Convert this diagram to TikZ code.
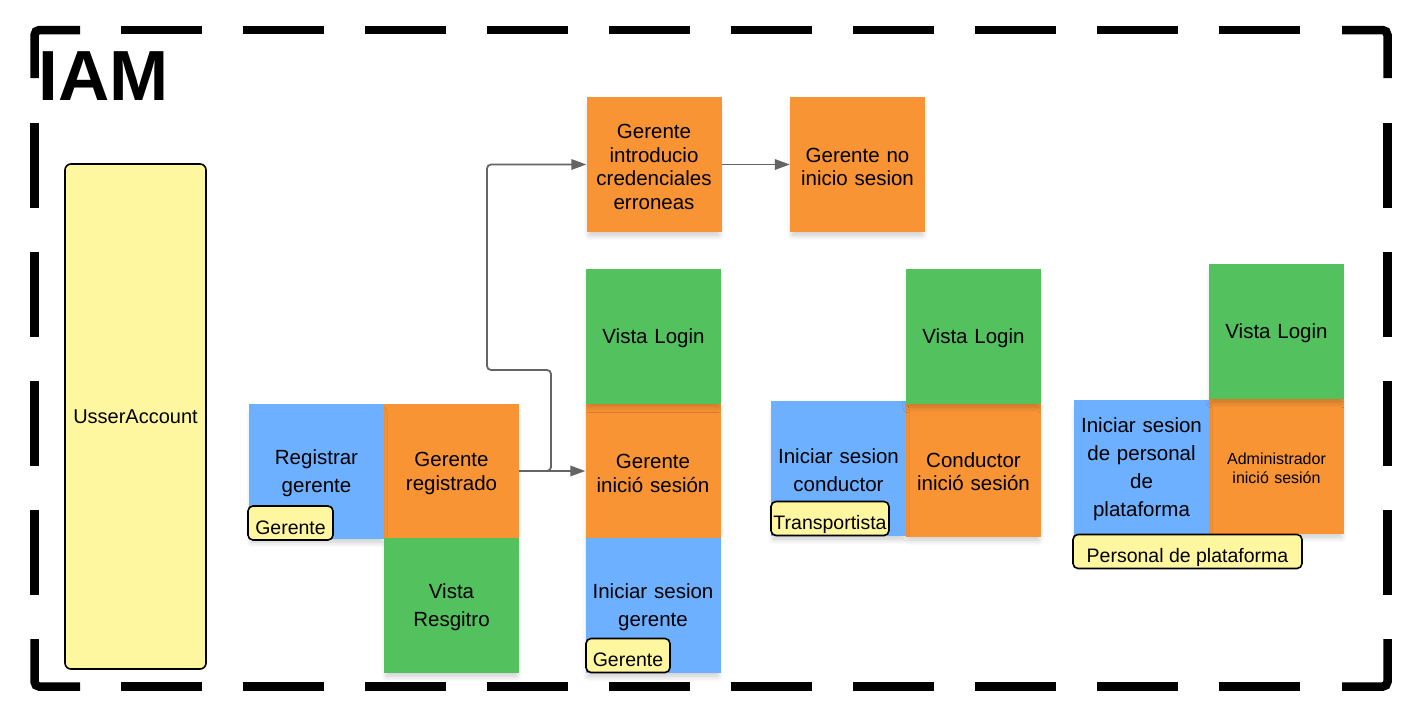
\documentclass[tikz,border=0pt]{standalone}
\usepackage{fontspec}
\setmainfont{Liberation Sans}
\usetikzlibrary{arrows.meta,shadows.blur}
\definecolor{nblue}{RGB}{108,176,255}
\definecolor{norange}{RGB}{248,148,52}
\definecolor{ngreen}{RGB}{83,193,94}
\definecolor{nyellow}{RGB}{255,246,160}
\definecolor{conncol}{RGB}{100,100,100}
\begin{document}
\begin{tikzpicture}[x=1pt,y=-1pt,
  note/.style={minimum width=135pt, minimum height=135pt, inner sep=0pt,
    align=center, text width=131pt, text height=19pt,
    blur shadow={shadow xshift=0pt, shadow yshift=-6pt, shadow scale=0.96,
      shadow blur radius=6pt, shadow blur steps=10, shadow opacity=22}},
  tight/.style={font=\fontsize{20.5}{23.5}\selectfont},
  loose/.style={font=\fontsize{20.5}{28}\selectfont},
  bluenote/.style={note, fill=nblue, loose},
  orangenote/.style={note, fill=norange, tight},
  greennote/.style={note, fill=ngreen, loose},
  tagbox/.style={draw=black, line width=1.6pt, fill=nyellow, rounded corners=5pt,
    minimum height=34pt, inner xsep=2pt, inner ysep=6pt, text height=22pt, text depth=0pt,
    font=\fontsize{19.5}{23.5}\selectfont},
  frame/.style={line width=8.5pt, line cap=butt, draw=black},
  conn/.style={draw=conncol, line width=1.8pt, rounded corners=4pt,
    -{Triangle[length=15pt,width=10.5pt]}}
]
\useasboundingbox (0,0) rectangle (1414,710);

% dashed frame
\draw[frame, rounded corners=5pt] (34.5,78) -- (34.5,30) -- (80,30);
\draw[frame, rounded corners=5pt] (1342,30) -- (1387.5,30) -- (1387.5,78);
\draw[frame, rounded corners=5pt] (34.5,639) -- (34.5,686.7) -- (80,686.7);
\draw[frame, rounded corners=5pt] (1342,686.7) -- (1387.5,686.7) -- (1387.5,639);
\draw[frame, dash pattern=on 81pt off 41pt] (121,30) -- (1301,30);
\draw[frame, dash pattern=on 81pt off 41pt] (121,686.7) -- (1301,686.7);
\draw[frame, dash pattern=on 85pt off 44pt] (34.5,123) -- (34.5,595);
\draw[frame, dash pattern=on 85pt off 44pt] (1387.5,123) -- (1387.5,595);

\node[anchor=base west, inner sep=0pt, font=\fontsize{71}{71}\selectfont\bfseries] (iam) at (38.5,100) {IAM};

% aggregate
\node[draw=black, line width=1.6pt, fill=nyellow, rounded corners=6pt,
  minimum width=141pt, minimum height=505pt, font=\fontsize{20}{23.5}\selectfont]
  (usser) at (135.5,416.5) {UsserAccount};

% orange notes
\node[orangenote] (gr) at (451.5,471) {Gerente\\registrado};
\node[orangenote] (gice) at (654,164.5) {Gerente\\introducio\\credenciales\\erroneas};
\node[orangenote] (gnis) at (857.5,164.5) {Gerente no\\inicio sesion};
\node[orangenote] (gis) at (653,471) {Gerente\\inició sesión};
\node[orangenote] (cis) at (973.5,469.5) {Conductor\\inició sesión};
\node[orangenote, font=\fontsize{16}{18.5}\selectfont, text height=15pt] (ais) at (1276.5,466.5) {Administrador\\inició sesión};

% blue notes
\node[bluenote] (reg) at (316.5,471.5) {Registrar\\gerente};
\node[bluenote] (isg) at (653,605.5) {Iniciar sesion\\gerente};
\node[bluenote] (isc) at (838.5,468.5) {Iniciar sesion\\conductor};
\node[bluenote] (ispp) at (1141.5,467) {Iniciar sesion\\de personal\\de\\plataforma};

% green notes
\node[greennote] (vr) at (451.5,605.5) {Vista\\Resgitro};
\node[greennote] (vl1) at (653.5,336) {Vista Login};
\node[greennote] (vl2) at (973.5,336.5) {Vista Login};
\node[greennote] (vl3) at (1276.5,331.5) {Vista Login};

% tags
\node[tagbox, minimum width=85pt] (t1) at (290.5,523) {Gerente};
\node[tagbox, minimum width=84pt] (t2) at (628,655.5) {Gerente};
\node[tagbox, minimum width=118pt] (t3) at (830,518.5) {Transportista};
\node[tagbox, minimum width=229pt] (t4) at (1187.5,551.5) {Personal de plataforma};

% connectors
\draw[conn] (gr.east) -- (gis.west);
\draw[conn] (gr.east) -| (551,370) -| (487,164.5) -- (gice.west);
\draw[conn] (gice.east) -- (gnis.west);
\end{tikzpicture}
\end{document}
